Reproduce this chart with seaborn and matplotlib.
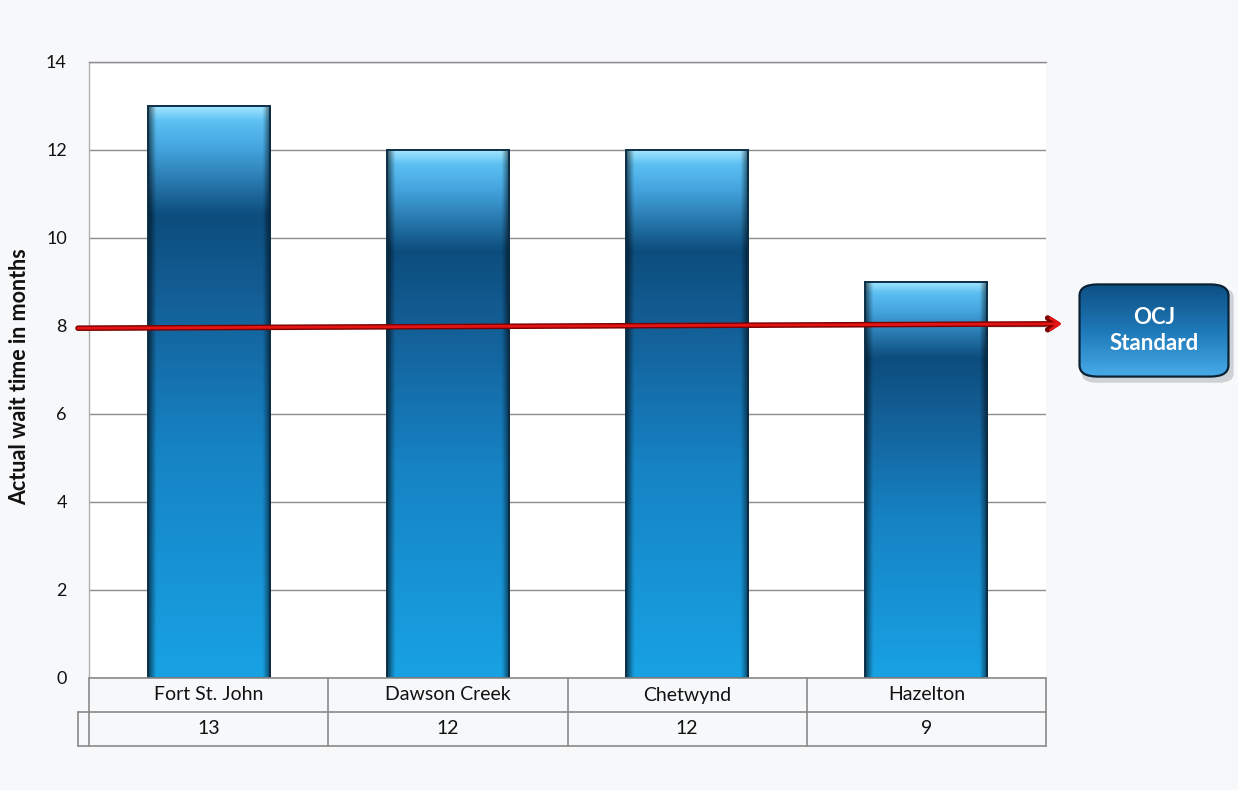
import numpy as np
import pandas as pd
import matplotlib
matplotlib.use("Agg")
import matplotlib.pyplot as plt
import seaborn as sns
from matplotlib.colors import LinearSegmentedColormap
from matplotlib.patches import FancyBboxPatch
from matplotlib.transforms import blended_transform_factory

# Data
communities = ["Fort St. John", "Dawson Creek", "Chetwynd", "Hazelton"]
wait_months = [13, 12, 12, 9]
ocj_standard = 8
y_ticks = [0, 2, 4, 6, 8, 10, 12, 14]

sns.set_theme(style="white")
plt.rcParams["font.family"] = ["Lato", "DejaVu Sans"]

BG = "#f7f8fa"
GRID = "#8c8c8c"

fig = plt.figure(figsize=(12.38, 7.90), dpi=100, facecolor=BG)
ax = fig.add_axes([89 / 1238, 1 - 678 / 790, (1046 - 89) / 1238, (678 - 62) / 790])
ax.set_facecolor("white")

df = pd.DataFrame({"community": communities, "months": wait_months})
sns.barplot(data=df, x="community", y="months", ax=ax, width=0.51,
            color="#1a8fd0", edgecolor="#0b2e48", linewidth=1.4, zorder=2)

ax.set_xlim(-0.5, 3.5)
ax.set_ylim(0, 14)
ax.set_yticks(y_ticks)
ax.set_yticklabels([str(t) for t in y_ticks], fontsize=13, color="#111111")
ax.tick_params(axis="y", length=0, pad=16)
ax.set_xticks([])
ax.set_xlabel("")
ax.set_ylabel("Actual wait time in months", fontsize=15.5, fontweight="bold",
              color="#111111")
ax.yaxis.set_label_coords(-0.061, 0.49)
ax.yaxis.grid(True, color=GRID, linewidth=1.0, zorder=0)
ax.set_axisbelow(True)
for side in ["right", "bottom"]:
    ax.spines[side].set_visible(False)
ax.spines["top"].set_color(GRID)
ax.spines["top"].set_linewidth(1.0)
ax.spines["left"].set_color("#b0b0b0")
ax.spines["left"].set_linewidth(1.0)

# Vertical shading of the bars: bright top rim, dark band, lighter toward the base
bar_cmap = LinearSegmentedColormap.from_list("bar", [
    (0.00, "#9fe4ff"),
    (0.025, "#5cc0f2"),
    (0.07, "#45a6e0"),
    (0.19, "#0c4d7d"),
    (0.32, "#135d94"),
    (0.60, "#1683c4"),
    (1.00, "#18a2e4"),
])
vert = bar_cmap(np.linspace(0, 1, 256))[:, None, :]
# darkened edges for a bevelled look
xs = np.linspace(0, 1, 64)
edge = np.clip(1 - np.minimum(xs, 1 - xs) / 0.06, 0, 1) * 0.55
shade = vert * (1 - edge[None, :, None])
shade[..., 3] = 1.0
for patch in ax.patches:
    x0, y0 = patch.get_x(), patch.get_y()
    w, h = patch.get_width(), patch.get_height()
    im = ax.imshow(shade, extent=[x0, x0 + w, y0, y0 + h], aspect="auto",
                   zorder=2.5, interpolation="bilinear")
    im.set_clip_path(patch)
    patch.set_facecolor("none")
    patch.set_zorder(3)
ax.set_xlim(-0.5, 3.5)
ax.set_ylim(0, 14)

# Data table under the axis
tr = blended_transform_factory(ax.transData, ax.transAxes)
row_h = 34 / 616
left_ext = -0.5 - 11 / 239.25
line_kw = dict(color="#8a8a8a", linewidth=1.2, clip_on=False, zorder=5)
ax.plot([-0.5, 3.5], [0, 0], transform=tr, **line_kw)
ax.plot([left_ext, 3.5], [-row_h, -row_h], transform=tr, **line_kw)
ax.plot([left_ext, 3.5], [-2 * row_h, -2 * row_h], transform=tr, **line_kw)
ax.plot([left_ext, left_ext], [-row_h, -2 * row_h], transform=tr, **line_kw)
for xb in [-0.5, 0.5, 1.5, 2.5, 3.5]:
    ax.plot([xb, xb], [0, -2 * row_h], transform=tr, **line_kw)
for i, (name, val) in enumerate(zip(communities, wait_months)):
    ax.text(i, -row_h * 0.5, name, transform=tr, ha="center", va="center",
            fontsize=14, color="#111111")
    ax.text(i, -row_h * 1.5, str(val), transform=tr, ha="center", va="center",
            fontsize=14, color="#111111")

# Standard threshold arrow
x_start = -0.5 - 11 / 239.25
x_end = 3.5 + 16 / 239.25
for lw, col in [(4.0, "#7a0000"), (2.0, "#e41414")]:
    ax.annotate("", xy=(x_end, ocj_standard + 0.05), xytext=(x_start, ocj_standard - 0.05),
                xycoords="data", textcoords="data",
                arrowprops=dict(arrowstyle="->,head_length=0.55,head_width=0.35",
                                color=col, lw=lw, shrinkA=0, shrinkB=0),
                annotation_clip=False, zorder=8)

# Label box for the standard
bx0, by0 = 1078 / 1238, 1 - 378 / 790
bw, bh = (1230 - 1078) / 1238, (378 - 283) / 790
shadow = FancyBboxPatch((bx0 + 0.003, by0 - 0.006), bw, bh,
                        boxstyle="round,pad=0,rounding_size=0.012",
                        transform=fig.transFigure, facecolor="#b4b9be",
                        edgecolor="none", alpha=0.6, zorder=1)
fig.patches.append(shadow)
bax = fig.add_axes([bx0, by0, bw, bh])
bax.set_zorder(5)
bax.set_xlim(0, 1)
bax.set_ylim(0, 1)
bax.axis("off")
box_cmap = LinearSegmentedColormap.from_list("box", [
    (0.0, "#0d4f82"), (0.5, "#1e78b8"), (1.0, "#49adea")])
grad = box_cmap(np.linspace(0, 1, 256))[:, None, :]
box = FancyBboxPatch((0.01, 0.015), 0.98, 0.97,
                     boxstyle="round,pad=0,rounding_size=0.12",
                     transform=bax.transAxes, facecolor="none",
                     edgecolor="#0a2236", linewidth=1.6, zorder=3)
bax.add_patch(box)
gim = bax.imshow(grad, extent=[0, 1, 0, 1], aspect="auto", zorder=2,
                 interpolation="bilinear")
gim.set_clip_path(box)
bax.text(0.5, 0.5, "OCJ\nStandard", ha="center", va="center", color="white",
         fontsize=16, fontweight="bold", linespacing=1.3, zorder=4)

fig.savefig("out.png", dpi=100, facecolor=BG)
